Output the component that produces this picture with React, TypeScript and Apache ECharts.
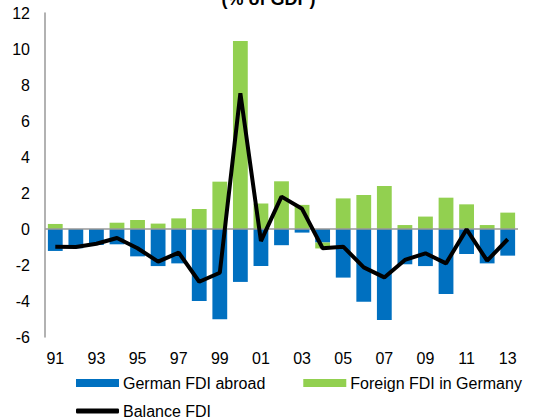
import React, { useEffect, useRef } from "react";
import * as echarts from "echarts";

const years = ["91","92","93","94","95","96","97","98","99","00","01","02","03","04","05","06","07","08","09","10","11","12","13"];
const germanAbroad = [-1.22,-1.07,-0.89,-0.85,-1.52,-2.06,-1.91,-4.0,-5.02,-2.94,-2.06,-0.9,-0.2,-0.75,-2.7,-4.04,-5.06,-1.96,-2.06,-3.61,-1.39,-1.91,-1.48];
const foreignInGermany = [0.28,0,0,0.35,0.5,0.3,0.59,1.11,2.63,10.44,1.41,2.65,1.34,-0.33,1.7,1.89,2.39,0.22,0.69,1.74,1.37,0.22,0.91];
const balanceFDI = [-0.98,-1.0,-0.82,-0.5,-1.07,-1.81,-1.31,-2.93,-2.43,7.54,-0.67,1.8,1.12,-1.07,-0.98,-2.13,-2.69,-1.72,-1.35,-1.91,-0.02,-1.76,-0.57];

const FONT = "Liberation Sans, Arial, sans-serif";

export default function App() {
  const ref = useRef<HTMLDivElement>(null);
  useEffect(() => {
    if (!ref.current) return;
    const chart = echarts.init(ref.current, undefined, { renderer: "svg" });
    chart.setOption({
      animation: false,
      title: {
        text: "(% of GDP)",
        left: "center",
        top: -15,
        textStyle: { fontFamily: FONT, fontSize: 18, fontWeight: "bold", color: "#000" },
      },
      grid: { left: 45, right: 19, top: 13, bottom: 82 },
      legend: [
        {
          left: 71,
          top: 370,
          itemWidth: 43,
          itemHeight: 8,
          itemGap: 38,
          icon: "rect",
          data: ["German FDI abroad", "Foreign FDI in Germany"],
          textStyle: { fontFamily: FONT, fontSize: 16, color: "#000", padding: [0, 0, 0, -1] },
        },
        {
          left: 71,
          top: 398,
          itemWidth: 43,
          itemHeight: 5,
          icon: "roundRect",
          data: [{ name: "Balance FDI", itemStyle: { color: "#000" } }],
          textStyle: { fontFamily: FONT, fontSize: 16, color: "#000", padding: [0, 0, 0, -1] },
        },
      ],
      xAxis: {
        type: "category",
        data: years,
        axisLine: { show: false },
        axisTick: { show: false },
        axisLabel: { interval: 1, fontFamily: FONT, fontSize: 16, color: "#000", margin: 13 },
      },
      yAxis: {
        type: "value",
        min: -6,
        max: 12,
        interval: 2,
        axisLine: { show: true, lineStyle: { color: "#999", width: 1.5 } },
        axisTick: { show: false },
        splitLine: { show: false },
        axisLabel: { fontFamily: FONT, fontSize: 16, color: "#000", margin: 15 },
      },
      series: [
        {
          name: "German FDI abroad",
          type: "bar",
          stack: "fdi",
          data: germanAbroad,
          barCategoryGap: "28%",
          itemStyle: { color: "#0070C0" },
          markLine: {
            silent: true,
            symbol: "none",
            label: { show: false },
            lineStyle: { color: "#999", width: 1.5, type: "solid" },
            data: [{ yAxis: 0 }],
          },
        },
        {
          name: "Foreign FDI in Germany",
          type: "bar",
          stack: "fdi",
          data: foreignInGermany,
          itemStyle: { color: "#92D050" },
        },
        {
          name: "Balance FDI",
          type: "line",
          data: balanceFDI,
          symbol: "none",
          lineStyle: { color: "#000", width: 4 },
          itemStyle: { color: "#000" },
          z: 5,
        },
      ],
    });
    return () => chart.dispose();
  }, []);
  return <div ref={ref} style={{ width: 537, height: 419, position: "absolute", left: 0, top: 0 }} />;
}
